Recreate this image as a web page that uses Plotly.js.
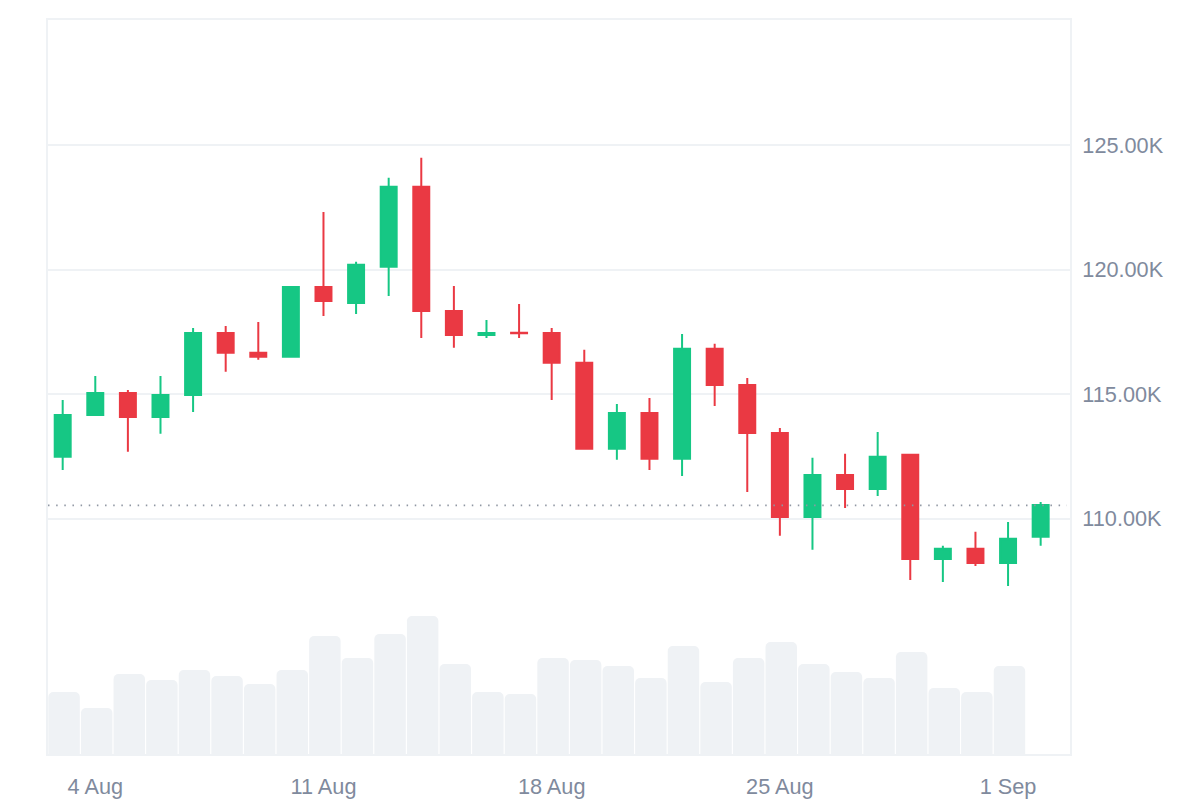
<!DOCTYPE html>
<html><head><meta charset="utf-8">
<script src="https://cdn.plot.ly/plotly-3.0.1.min.js"></script>
<style>html,body{margin:0;padding:0;background:#fff}#c{width:1200px;height:800px}</style>
</head><body><div id="c"></div>
<script>
const dates = ["2025-08-03","2025-08-04","2025-08-05","2025-08-06","2025-08-07","2025-08-08","2025-08-09","2025-08-10","2025-08-11","2025-08-12","2025-08-13","2025-08-14","2025-08-15","2025-08-16","2025-08-17","2025-08-18","2025-08-19","2025-08-20","2025-08-21","2025-08-22","2025-08-23","2025-08-24","2025-08-25","2025-08-26","2025-08-27","2025-08-28","2025-08-29","2025-08-30","2025-08-31","2025-09-01","2025-09-02"];
const openK  = [112.49,114.17,115.05,114.09,114.97,117.46,116.66,116.50,119.30,118.66,120.11,123.32,118.34,117.38,117.47,117.46,116.26,112.81,114.25,112.41,116.82,115.37,113.45,110.08,111.76,111.20,112.57,108.39,108.80,108.23,109.28];
const highK  = [114.77,115.73,115.17,115.73,117.66,117.74,117.90,119.34,122.31,120.31,123.68,124.48,119.34,117.98,118.62,117.66,116.78,114.61,114.85,117.42,117.02,115.65,113.65,112.45,112.61,113.49,112.61,108.92,109.48,109.88,110.68];
const lowK   = [111.96,114.13,112.69,113.41,114.29,115.90,116.38,116.46,118.14,118.22,118.94,117.26,116.86,117.26,117.26,114.77,112.77,112.37,111.96,111.72,114.53,111.08,109.32,108.76,110.44,110.92,107.55,107.47,108.11,107.31,108.92];
const closeK = [114.17,115.05,114.09,114.97,117.46,116.66,116.50,119.30,118.74,120.19,123.32,118.34,117.38,117.46,117.45,116.26,112.81,114.25,112.41,116.82,115.37,113.45,110.08,111.76,111.20,112.49,108.39,108.80,108.23,109.20,110.56];
const volume = [63,47,81,75,85,79,71,85,119,97,121,139,91,63,61,97,95,89,77,109,73,97,113,91,83,77,103,67,63,89];
const lastPriceK = 110.54;
const priceTicks = [110,115,120,125];
const priceLabels = ["110.00K","115.00K","120.00K","125.00K"];
const dateTicks = ["2025-08-04","2025-08-11","2025-08-18","2025-08-25","2025-09-01"];
const dateLabels = ["4 Aug","11 Aug","18 Aug","25 Aug","1 Sep"];

const GREEN="#16c784", RED="#ea3943", GRID="#eff2f5", TEXT="#808a9d";
const DAY=86400000;

const traces=[
 {type:"bar",x:dates.slice(0,volume.length),y:volume,yaxis:"y2",hoverinfo:"skip",
  width:0.965*DAY,offset:-0.44*DAY,marker:{color:GRID,cornerradius:5,line:{width:0}},showlegend:false},
 {type:"candlestick",x:dates,open:openK,high:highK,low:lowK,close:closeK,yaxis:"y",whiskerwidth:0,
  increasing:{line:{color:GREEN,width:2},fillcolor:GREEN},
  decreasing:{line:{color:RED,width:2},fillcolor:RED},showlegend:false}
];
const layout={
 width:1200,height:800,paper_bgcolor:"#fff",plot_bgcolor:"#fff",
 margin:{l:48,r:130,t:20,b:46,pad:0},showlegend:false,
 font:{family:"Liberation Sans, Arial, sans-serif",size:21.7,color:TEXT},
 boxgap:0.51,boxgroupgap:0,
 xaxis:{type:"date",range:["2025-08-02 13:11","2025-09-02 21:36"],tickmode:"array",tickvals:dateTicks,ticktext:dateLabels,
  rangeslider:{visible:false},showgrid:false,zeroline:false,showline:true,mirror:true,linecolor:GRID,linewidth:2,ticks:"",ticklen:0,
  tickangle:0,tickfont:{size:21.7,color:TEXT},ticklabelstandoff:12},
 yaxis:{range:[100.57,130.01],side:"right",tickmode:"array",tickvals:priceTicks,ticktext:priceLabels,showgrid:true,gridcolor:GRID,gridwidth:2,
  zeroline:false,showline:true,mirror:true,linecolor:GRID,linewidth:2,ticks:"",tickfont:{size:21.7,color:TEXT},ticklabelstandoff:6,fixedrange:true},
 yaxis2:{range:[1,735],overlaying:"y",side:"left",visible:false,fixedrange:true},
 shapes:[{type:"line",xref:"paper",yref:"y",x0:0,x1:0.997,y0:lastPriceK,y1:lastPriceK,layer:"above",
  line:{color:"#9097a3",width:1.8,dash:"1.5px,6.65px"}}]
};
Plotly.newPlot("c",traces,layout,{displayModeBar:false,staticPlot:true});
</script></body></html>
